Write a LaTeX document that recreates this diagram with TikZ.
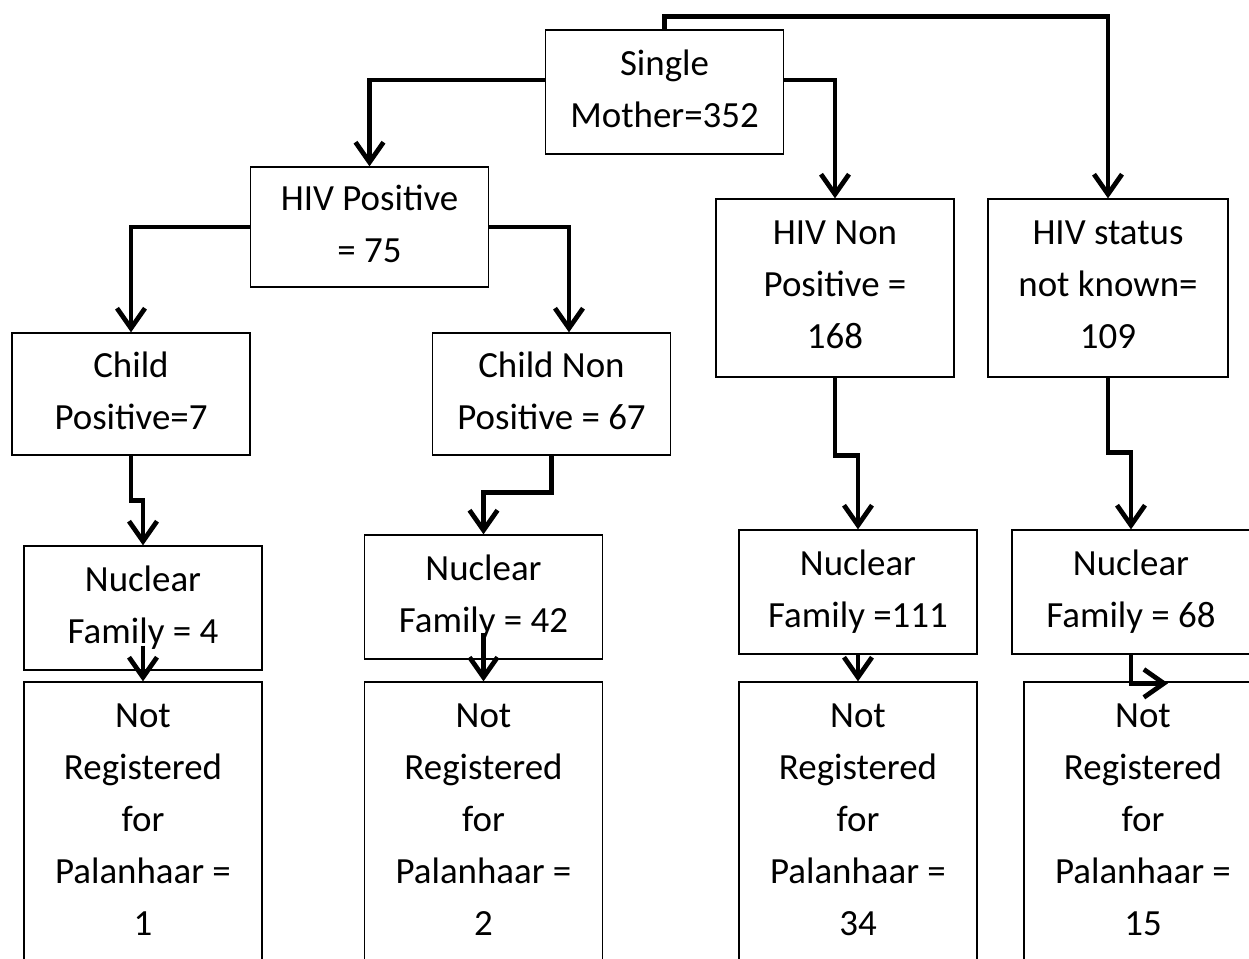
\documentclass[tikz,border=0pt]{standalone}
\usepackage{fontspec}
\setmainfont{Carlito}
\usepackage{tikz}
\usetikzlibrary{arrows.meta}
\tikzset{
	box/.style={draw, line width=0.75pt, minimum width=4.76cm, inner sep=0pt, align=center, text depth=0.15cm, font=\fontsize{21}{29.6}\selectfont},
	regbox/.style={box, minimum height=5.92cm, text depth=0.4cm},
	link/.style={line width=2.7pt, -{Straight Barb[length=0.4cm,width=0.56cm]}}
}

\begin{document}
\begin{tikzpicture}[x=0.02cm, y=-0.02cm]
			%%%%% START %%%%%
			
			\useasboundingbox (0, 0) rectangle (1249, 959);
			\clip (0, 0) rectangle (1249, 959);
			
			\node[box, minimum height=2.48cm] (sm) at (664.5, 92) {Single\\Mother=352};
			
			\node[box, minimum height=2.4cm] (hivpos) at (369.5, 227) {HIV Positive\\= 75};
			\node[box, minimum height=3.56cm] (hivnon) at (835, 288) {HIV Non\\Positive =\\168};
			\node[box, minimum height=3.56cm, minimum width=4.8cm] (hivunk) at (1108, 288) {HIV status\\not known=\\109};
			
			\node[box, minimum height=2.44cm] (cpos) at (131, 394) {Child\\Positive=7};
			\node[box, minimum height=2.44cm] (cnon) at (551.5, 394) {Child Non\\Positive = 67};
			
			\node[box, minimum height=2.48cm] (nf4) at (143, 608) {Nuclear\\Family = 4};
			\node[box, minimum height=2.48cm] (nf42) at (483.5, 597) {Nuclear\\Family = 42};
			\node[box, minimum height=2.48cm] (nf111) at (858, 592) {Nuclear\\Family =111};
			\node[box, minimum height=2.48cm] (nf68) at (1131, 592) {Nuclear\\Family = 68};
			
			\node[regbox] (reg1) at (143, 830) {Not\\Registered\\for\\Palanhaar =\\1};
			\node[regbox] (reg2) at (483.5, 830) {Not\\Registered\\for\\Palanhaar =\\2};
			\node[regbox] (reg34) at (858, 830) {Not\\Registered\\for\\Palanhaar =\\34};
			\node[regbox] (reg15) at (1143, 830) {Not\\Registered\\for\\Palanhaar =\\15};
			
			\draw[link] ([yshift=0.24cm]sm.west) -| (hivpos.north);
			\draw[link] ([yshift=0.24cm]sm.east) -| (hivnon.north);
			\draw[link] (sm.north) -- ++(0, -13) -| (hivunk.north);
			
			\draw[link] (hivpos.west) -| (cpos.north);
			\draw[link] (hivpos.east) -| ([xshift=0.35cm]cnon.north);
			
			\draw[link] (cpos.south) -- ++(0, 45) -| (nf4.north);
			\draw[link] (cnon.south) -- ++(0, 37) -| (nf42.north);
			\draw[link] (hivnon.south) -- ++(0, 78) -| (nf111.north);
			\draw[link] (hivunk.south) -- ++(0, 75) -| (nf68.north);
			
			\draw[link] ([yshift=0.5cm]nf4.south) -- (reg1.north);
			\draw[link] ([yshift=0.54cm]nf42.south) -- (reg2.north);
			\draw[link] (nf111.south) -- (reg34.north);
			\draw[link] (nf68.south) |- ([xshift=0.5cm, yshift=-0.04cm]reg15.north);
			
			%%%%% END %%%%%
\end{tikzpicture}
\end{document}
